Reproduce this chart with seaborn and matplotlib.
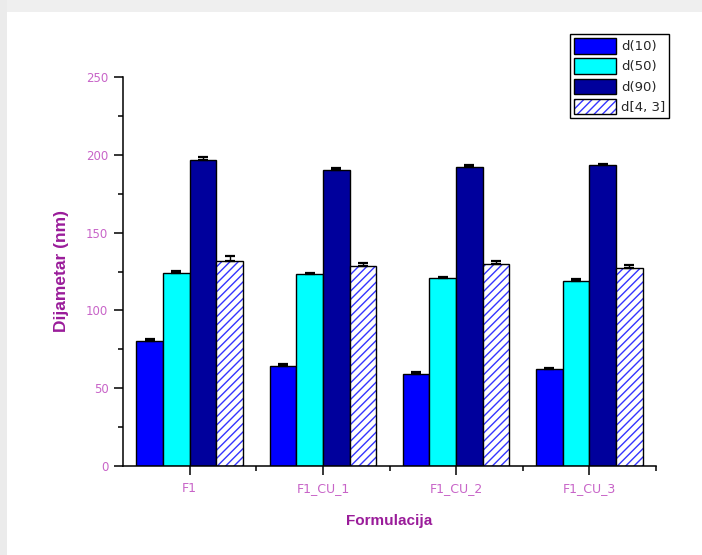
import numpy as np
import pandas as pd
import matplotlib
matplotlib.use("Agg")
import matplotlib.pyplot as plt
from matplotlib.patches import Rectangle
from matplotlib.legend_handler import HandlerTuple
from matplotlib.ticker import MultipleLocator, FixedLocator
import seaborn as sns

# ---- data ----
formulations = ["F1", "F1_CU_1", "F1_CU_2", "F1_CU_3"]
series = ["d(10)", "d(50)", "d(90)", "d[4, 3]"]
d10 = [80.3, 64.5, 59.3, 62.5]
d50 = [124.2, 123.2, 120.9, 119.0]
d90 = [196.5, 190.2, 192.3, 193.4]
d43 = [131.8, 128.7, 129.6, 127.4]
err_d10 = [1.0, 1.0, 1.0, 0.8]
err_d50 = [1.0, 0.8, 0.8, 1.0]
err_d90 = [1.8, 1.0, 1.0, 0.5]
err_d43 = [3.2, 2.0, 2.0, 2.0]

values = [d10, d50, d90, d43]
errors = [err_d10, err_d50, err_d90, err_d43]

df = pd.DataFrame({
    "Formulacija": np.repeat([formulations], len(series), axis=0).ravel(),
    "Serija": np.repeat(series, len(formulations)),
    "Vrijednost": np.concatenate(values),
})

colors = ["#0000ff", "#00ffff", "#00009c", "#ffffff"]
hatch_color = "#3535ff"
tick_color = "#c864c8"
label_color = "#9a1c9a"

sns.set_theme(style="white")
plt.rcParams["font.family"] = ["Liberation Sans", "DejaVu Sans"]
plt.rcParams["hatch.linewidth"] = 1.0

fig = plt.figure(figsize=(7.02, 5.55), dpi=100)
fig.patch.set_facecolor("white")
# light grey frame strips (top and left)
fig.add_artist(Rectangle((0, 1 - 12 / 555), 1, 12 / 555, transform=fig.transFigure,
                         facecolor="#efefef", edgecolor="none", zorder=-10))
fig.add_artist(Rectangle((0, 0), 7 / 702, 1, transform=fig.transFigure,
                         facecolor="#ebebeb", edgecolor="none", zorder=-10))

ax = fig.add_axes([123 / 702, 1 - 466 / 555, (656 - 123) / 702, (466 - 77) / 555])
ax.set_facecolor("white")

sns.barplot(data=df, x="Formulacija", y="Vrijednost", hue="Serija",
            order=formulations, hue_order=series, palette=colors,
            errorbar=None, width=0.8, gap=0, dodge=True, ax=ax,
            edgecolor="black", linewidth=1.0, saturation=1, legend=False)

# hatched series: hatch layer + black outline
outline_patches = []
for p in ax.containers[3].patches:
    p.set_hatch("////")
    p.set_edgecolor(hatch_color)
    p.set_linewidth(0)
    r = Rectangle(p.get_xy(), p.get_width(), p.get_height(), facecolor="none",
                  edgecolor="black", linewidth=1.0, zorder=p.get_zorder() + 0.1)
    ax.add_patch(r)
    outline_patches.append(r)

# error bars (upper only)
for cont, err in zip(ax.containers, errors):
    xs = [p.get_x() + p.get_width() / 2 for p in cont.patches]
    ys = [p.get_height() for p in cont.patches]
    ax.errorbar(xs, ys, yerr=[np.zeros(len(err)), err], fmt="none",
                ecolor="black", elinewidth=1.0, capsize=3.5, capthick=1.6, zorder=5)

ax.set_xlim(-0.5, 3.5)
ax.set_ylim(0, 250)
ax.yaxis.set_major_locator(MultipleLocator(50))
ax.yaxis.set_minor_locator(MultipleLocator(25))
ax.xaxis.set_minor_locator(FixedLocator([0.5, 1.5, 2.5, 3.5]))

for s in ["top", "right"]:
    ax.spines[s].set_visible(False)
for s in ["left", "bottom"]:
    ax.spines[s].set_color("black")
    ax.spines[s].set_linewidth(1.1)

ax.tick_params(axis="both", which="major", direction="out", length=6.5, width=1.1,
               color="black", labelcolor=tick_color, labelsize=8.5, pad=4,
               bottom=True, left=True)
ax.tick_params(axis="both", which="minor", direction="out", length=3.5, width=1.1,
               color="black", bottom=True, left=True)
for lab in ax.get_xticklabels() + ax.get_yticklabels():
    lab.set_family(["DejaVu Sans"])
ax.tick_params(axis="x", which="major", labelsize=9, pad=5)

ax.set_xlabel("Formulacija", fontsize=11, fontweight="bold", color=label_color, labelpad=14)
ax.set_ylabel("Dijametar (nm)", fontsize=12.5, fontweight="bold", color=label_color, labelpad=12)

# legend
handles = [ax.containers[0].patches[0], ax.containers[1].patches[0],
           ax.containers[2].patches[0],
           (ax.containers[3].patches[0], outline_patches[0])]
leg = ax.legend(handles, series, loc="upper right",
                bbox_to_anchor=(669 / 702, 1 - 34 / 555), bbox_transform=fig.transFigure,
                handler_map={tuple: HandlerTuple(ndivide=1, pad=0)},
                prop={"family": ["DejaVu Sans"], "size": 9.5},
                frameon=True, fancybox=False, borderpad=0.3, labelspacing=0.35,
                handlelength=3.2, handleheight=1.45, handletextpad=0.35, borderaxespad=0)
leg.get_frame().set_edgecolor("black")
leg.get_frame().set_linewidth(1.0)
leg.get_frame().set_facecolor("white")
leg.get_frame().set_alpha(1)

fig.savefig("out.png", dpi=100)
